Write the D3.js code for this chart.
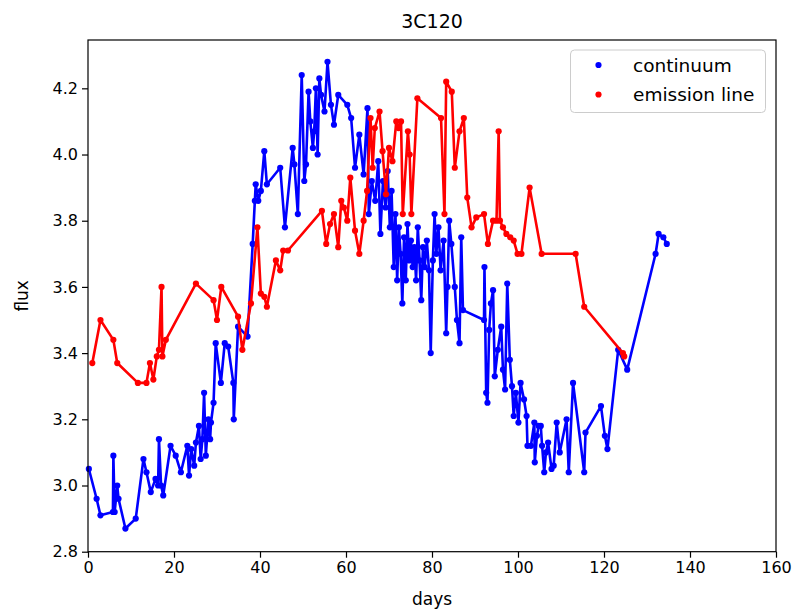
<!DOCTYPE html>
<html><head><meta charset="utf-8">
<script src="https://cdn.jsdelivr.net/npm/d3@7"></script>
<style>body{margin:0;background:#fff}svg{display:block}text{font-family:"DejaVu Sans",sans-serif;fill:#000}</style>
</head><body><svg id="c" width="794" height="611"></svg>
<script>
const contDays=[0.2,2.0,2.9,5.8,5.9,6.2,6.8,7.1,8.7,11.1,12.9,13.6,14.6,15.7,16.3,16.5,17.0,17.5,19.2,20.4,21.6,23.1,23.5,24.0,24.7,25.1,25.8,26.2,26.6,27.0,27.4,28.0,28.4,28.6,29.2,29.7,30.9,31.8,32.6,33.8,33.9,34.9,37.1,38.3,38.8,39.0,39.6,40.2,41.0,41.6,44.7,45.8,47.6,48.0,48.8,49.7,50.3,50.7,51.3,51.7,52.3,52.6,53.0,53.4,53.8,54.2,55.0,55.7,56.5,57.2,58.2,60.3,61.2,62.1,63.1,64.1,65.0,65.3,66.0,66.8,67.5,68.0,68.6,69.2,69.7,70.2,70.6,71.1,71.5,71.9,72.3,72.7,73.1,73.5,73.9,74.3,74.7,75.1,75.5,75.9,76.3,76.7,77.1,77.5,77.9,78.3,78.8,79.3,79.7,80.2,80.6,81.0,81.5,82.0,82.7,83.3,83.6,84.0,84.5,85.3,85.8,86.4,86.8,87.2,92.1,92.2,92.6,92.9,93.3,93.7,94.2,94.6,95.3,96.1,96.5,97.0,97.5,98.1,98.6,99.0,99.5,100.1,100.6,101.4,102.0,102.2,103.0,103.8,103.9,104.4,104.8,105.3,105.6,106.1,106.5,107.0,107.8,108.3,109.0,109.7,111.3,111.8,112.8,115.4,115.7,119.3,120.2,120.8,123.3,125.4,132.0,132.7,133.8,134.6];
const contFlux=[3.05,2.96,2.91,2.92,3.09,2.92,3.00,2.96,2.87,2.90,3.08,3.04,2.98,3.02,3.00,3.14,3.00,2.97,3.12,3.09,3.04,3.12,3.03,3.11,3.06,3.13,3.18,3.08,3.14,3.28,3.09,3.20,3.14,3.19,3.25,3.43,3.31,3.43,3.42,3.31,3.20,3.48,3.45,3.73,3.86,3.91,3.86,3.89,4.01,3.91,3.96,3.78,4.02,3.97,3.82,4.24,3.92,3.97,4.19,4.10,4.02,4.07,4.20,4.00,4.23,4.18,4.13,4.28,4.15,4.09,4.18,4.15,4.11,3.96,4.06,3.94,4.14,3.82,3.92,3.86,3.98,3.76,3.92,3.84,3.95,3.78,3.89,3.66,3.82,3.62,3.78,3.70,3.55,3.75,3.62,3.79,3.68,3.74,3.66,3.72,3.62,3.78,3.68,3.56,3.72,3.66,3.74,3.65,3.40,3.68,3.82,3.70,3.78,3.65,3.74,3.46,3.60,3.80,3.73,3.60,3.50,3.43,3.75,3.53,3.50,3.66,3.28,3.25,3.47,3.55,3.59,3.33,3.41,3.48,3.35,3.29,3.61,3.38,3.30,3.21,3.28,3.19,3.31,3.26,3.21,3.12,3.12,3.19,3.07,3.15,3.18,3.18,3.12,3.04,3.10,3.13,3.05,3.06,3.19,3.10,3.20,3.04,3.31,3.04,3.16,3.24,3.15,3.11,3.41,3.35,3.70,3.76,3.75,3.73];
const lineDays=[1.0,2.9,5.9,6.8,11.6,13.6,14.4,15.2,16.0,16.5,17.1,17.3,18.1,25.1,29.2,30.0,31.0,34.9,35.9,37.9,39.4,40.2,41.0,41.6,43.7,44.7,45.4,46.5,54.4,55.4,56.3,57.2,58.2,58.9,59.5,60.3,61.0,62.1,63.1,64.1,64.9,65.7,66.2,66.7,67.8,68.5,69.3,70.0,70.8,71.7,72.2,72.8,73.2,74.4,74.8,75.2,76.6,82.1,82.9,83.3,84.6,85.3,86.4,87.4,88.2,89.2,90.3,92.1,93.0,94.2,95.0,95.5,95.8,96.5,97.3,98.2,99.0,99.9,100.8,102.7,105.5,113.4,115.4,124.4,124.7];
const lineFlux=[3.37,3.50,3.44,3.37,3.31,3.31,3.37,3.32,3.39,3.41,3.60,3.39,3.44,3.61,3.56,3.50,3.60,3.51,3.41,3.55,3.78,3.58,3.57,3.54,3.68,3.65,3.71,3.71,3.83,3.73,3.79,3.82,3.72,3.86,3.84,3.80,3.93,3.77,3.70,3.80,3.89,4.11,3.96,4.08,4.13,4.01,3.88,4.02,3.98,4.10,4.08,4.10,3.82,4.07,4.00,3.82,4.17,4.11,3.82,4.22,4.19,3.96,4.07,4.11,3.87,3.78,3.81,3.82,3.73,3.80,3.80,4.07,3.80,3.78,3.76,3.75,3.74,3.70,3.70,3.90,3.70,3.70,3.54,3.40,3.39];
const xTicks=[0,20,40,60,80,100,120,140,160];
const yTicks=[2.8,3.0,3.2,3.4,3.6,3.8,4.0,4.2];
const seriesNames=["continuum","emission line"];
const seriesColors=["#0000ff","#ff0000"];

const svg=d3.select("#c");
const L=88,R=776,T=40,B=551.7;
const x=d3.scaleLinear().domain([0,160]).range([L,R]);
const y=d3.scaleLinear().domain([2.8,4.346]).range([B,T]);

const series=[d3.zip(contDays,contFlux),d3.zip(lineDays,lineFlux)];
const line=d3.line().x(d=>x(d[0])).y(d=>y(d[1]));
series.forEach((s,i)=>{
  const g=svg.append("g");
  g.append("path").attr("d",line(s)).attr("fill","none").attr("stroke",seriesColors[i]).attr("stroke-width",2.6).attr("stroke-linejoin","round");
  g.selectAll("circle").data(s).join("circle").attr("cx",d=>x(d[0])).attr("cy",d=>y(d[1])).attr("r",3.1).attr("fill",seriesColors[i]);
});

const xa=svg.append("g").attr("transform",`translate(0,${B})`).call(d3.axisBottom(x).tickValues(xTicks).tickSize(6).tickPadding(4).tickFormat(d3.format("d")));
const ya=svg.append("g").attr("transform",`translate(${L},0)`).call(d3.axisLeft(y).tickValues(yTicks).tickSize(6).tickPadding(4).tickFormat(d3.format(".1f")));
[xa,ya].forEach(a=>{a.select(".domain").remove();a.selectAll("line").attr("stroke","#000").attr("stroke-width",1.2);a.selectAll("text").style("font-size","16px").attr("fill","#000");});
svg.append("rect").attr("x",L).attr("y",T).attr("width",R-L).attr("height",B-T).attr("fill","none").attr("stroke","#000").attr("stroke-width",1.2);

svg.append("text").attr("x",(L+R)/2).attr("y",28).attr("text-anchor","middle").style("font-size","19px").text("3C120");
svg.append("text").attr("x",(L+R)/2).attr("y",605).attr("text-anchor","middle").style("font-size","17px").text("days");
svg.append("text").attr("transform",`translate(28,${(T+B)/2}) rotate(-90)`).attr("text-anchor","middle").style("font-size","17px").text("flux");

const lg=svg.append("g");
lg.append("rect").attr("x",570.5).attr("y",50).attr("width",195).attr("height",62.5).attr("rx",4).attr("fill","#fff").attr("fill-opacity",0.8).attr("stroke","#cccccc");
seriesNames.forEach((n,i)=>{
  lg.append("circle").attr("cx",598.5).attr("cy",65+i*29.5).attr("r",3.1).attr("fill",seriesColors[i]);
  lg.append("text").attr("x",633).attr("y",71.5+i*29.5).style("font-size","18.5px").text(n);
});
</script></body></html>
